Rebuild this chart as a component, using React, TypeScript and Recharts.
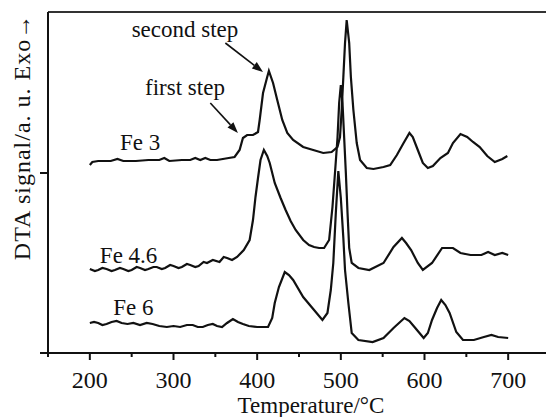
import { LineChart, Line, XAxis, YAxis, ReferenceLine, ReferenceDot, Label } from "recharts";

// DTA traces, [temperature °C, signal (arb. units, stacked)]
const fe3: [number, number][] = [
  [200, 188], [203, 191], [210, 192], [225, 192], [233, 194], [240, 192], [255, 192], [270, 193],
  [283, 193], [289, 195], [295, 192], [310, 193], [320, 193], [326, 195], [332, 193], [338, 195],
  [344, 193], [352, 193], [359, 194], [366, 195], [373, 196], [379, 203], [383, 215], [388, 218],
  [395, 218], [401, 221], [403, 233], [407, 260], [412, 276], [414, 282], [419, 270], [424, 253],
  [430, 233], [436, 220], [443, 213], [455, 206], [467, 203], [479, 200], [489, 201], [496, 206],
  [499, 216], [501, 243], [503, 276], [505, 310], [507, 333], [510, 310], [512, 276], [515, 243],
  [519, 210], [523, 193], [531, 185], [539, 184], [551, 186], [559, 188], [567, 198], [575, 210],
  [582, 220], [586, 216], [592, 203], [598, 190], [604, 185], [610, 187], [619, 195], [628, 200],
  [634, 210], [643, 219], [651, 216], [658, 211], [666, 206], [675, 197], [684, 191], [693, 194],
  [699, 197],
];

const fe46: [number, number][] = [
  [200, 84], [206, 82], [210, 83], [215, 85], [220, 84], [226, 82], [230, 83], [236, 85],
  [240, 84], [246, 82], [250, 83], [256, 86], [260, 85], [266, 83], [270, 84], [276, 86],
  [280, 86], [286, 84], [290, 85], [296, 88], [300, 87], [306, 85], [310, 86], [316, 89],
  [320, 88], [326, 86], [330, 87], [336, 91], [340, 90], [347, 93], [355, 91], [360, 96],
  [364, 95], [370, 93], [376, 96], [384, 103], [391, 113], [395, 133], [398, 156],
  [401, 175], [404, 193], [408, 203], [412, 197], [415, 190], [421, 170], [428, 155], [434, 143],
  [440, 132], [446, 123], [455, 113], [462, 108], [468, 106], [474, 105], [480, 105], [486, 113],
  [490, 146], [493, 180], [496, 215], [498, 250], [500, 268], [502, 250], [504, 215], [506, 180],
  [508, 140], [510, 105], [513, 90], [521, 85], [534, 83], [551, 90], [563, 106], [573, 115],
  [578, 110], [584, 103], [592, 90], [598, 83], [609, 90], [621, 105], [634, 105], [643, 100],
  [655, 98], [668, 98], [676, 101], [684, 98], [693, 100], [700, 98],
];

const fe6: [number, number][] = [
  [200, 30], [205, 31], [210, 30], [215, 28], [220, 29], [226, 31], [232, 32], [238, 30],
  [245, 29], [252, 30], [260, 28], [268, 30], [275, 29], [283, 27], [292, 26], [300, 27],
  [308, 26], [316, 28], [323, 28], [329, 26], [335, 26], [341, 28], [347, 29], [352, 27],
  [358, 26], [364, 30], [371, 34], [377, 31], [383, 29], [390, 27], [400, 26],
  [413, 26], [418, 35], [421, 50], [426, 66], [433, 81], [438, 78], [443, 73], [455, 56],
  [468, 43], [478, 33], [484, 40], [488, 63], [491, 90], [494, 140], [497, 182], [500, 155],
  [503, 115], [505, 83], [509, 50], [513, 20], [521, 13], [538, 11], [551, 15], [563, 25],
  [576, 35], [582, 32], [588, 26], [594, 20], [599, 15], [604, 20], [609, 33], [615, 45],
  [620, 53], [625, 48], [630, 40], [638, 21], [646, 13], [659, 13], [671, 16], [680, 18],
  [688, 16], [700, 15],
];

const xTicks = [150, 200, 250, 300, 350, 400, 450, 500, 550, 600, 650, 700, 750];
const yTicks = [0, 180];

const curveLabels = [
  { text: "second step", t: 250, v: 316 },
  { text: "first step", t: 266, v: 258 },
  { text: "Fe 3", t: 236, v: 203 },
  { text: "Fe 4.6", t: 212, v: 90 },
  { text: "Fe 6", t: 228, v: 38 },
];

const arrows = [
  { t1: 362, v1: 310, t2: 407, v2: 281 },
  { t1: 344, v1: 250, t2: 377, v2: 220 },
];

const FONT = '"Liberation Serif", "Times New Roman", serif';
const INK = "#111";

const toRows = (pts: [number, number][]) => pts.map(([t, v]) => ({ t, v }));

function XTick(props: any) {
  const { x, y, payload } = props;
  const val = payload.value as number;
  const major = val % 100 === 0;
  return (
    <g>
      <line x1={x} x2={x} y1={y} y2={y + (major ? 7 : 4)} stroke={INK} strokeWidth={2} />
      {major && val >= 200 && val <= 700 && (
        <text x={x} y={y + 35} textAnchor="middle" fontSize={24} fontFamily={FONT} fill={INK}>
          {val}
        </text>
      )}
    </g>
  );
}

function YTick(props: any) {
  const { x, y } = props;
  return <line x1={x - 8} x2={x} y1={y} y2={y} stroke={INK} strokeWidth={2} />;
}

function ArrowShape(p: any) {
  const { x1, y1, x2, y2 } = p;
  const a = Math.atan2(y2 - y1, x2 - x1);
  const len = 11;
  const w = 4;
  const bx = x2 - len * Math.cos(a);
  const by = y2 - len * Math.sin(a);
  const pts = `${x2},${y2} ${bx - w * Math.sin(a)},${by + w * Math.cos(a)} ${bx + w * Math.sin(a)},${by - w * Math.cos(a)}`;
  return (
    <g>
      <line x1={x1} y1={y1} x2={bx} y2={by} stroke={INK} strokeWidth={1.6} />
      <polygon points={pts} fill={INK} />
    </g>
  );
}

export default function App() {
  return (
    <div style={{ position: "absolute", left: 0, top: 0, width: 546, height: 417, overflow: "hidden", background: "#fff" }}>
      <LineChart width={550} height={417} margin={{ top: 12, right: 0, bottom: 0, left: 0 }}>
        <XAxis
          type="number"
          dataKey="t"
          domain={[150, 750]}
          ticks={xTicks}
          interval={0}
          allowDataOverflow
          height={64}
          tickSize={0}
          tickMargin={0}
          tickLine={false}
          tick={<XTick />}
          axisLine={{ stroke: INK, strokeWidth: 2 }}
        >
          <Label
            content={() => (
              <text x={311} y={413} textAnchor="middle" fontSize={23} fontFamily={FONT} fill={INK}>
                Temperature/°C
              </text>
            )}
          />
        </XAxis>
        <YAxis
          type="number"
          domain={[0, 341]}
          ticks={yTicks}
          allowDataOverflow
          width={48}
          tickSize={0}
          tickMargin={0}
          tickLine={false}
          tick={<YTick />}
          axisLine={{ stroke: INK, strokeWidth: 2 }}
        >
          <Label
            content={() => (
              <text
                transform="translate(30,137) rotate(-90)"
                textAnchor="middle"
                fontSize={24}
                letterSpacing={1}
                fontFamily={FONT}
                fill={INK}
              >
                DTA signal/a. u.  Exo→
              </text>
            )}
          />
        </YAxis>
        <ReferenceLine y={341} stroke="#333" strokeWidth={2} />
        <Line data={toRows(fe3)} dataKey="v" type="linear" stroke={INK} strokeWidth={2.2} dot={false} isAnimationActive={false} />
        <Line data={toRows(fe46)} dataKey="v" type="linear" stroke={INK} strokeWidth={2.2} dot={false} isAnimationActive={false} />
        <Line data={toRows(fe6)} dataKey="v" type="linear" stroke={INK} strokeWidth={2.2} dot={false} isAnimationActive={false} />
        {arrows.map((a, i) => (
          <ReferenceLine
            key={`ar${i}`}
            segment={[{ x: a.t1, y: a.v1 }, { x: a.t2, y: a.v2 }]}
            ifOverflow="visible"
            shape={ArrowShape}
          />
        ))}
        {curveLabels.map((l) => (
          <ReferenceDot
            key={l.text}
            x={l.t}
            y={l.v}
            r={0}
            ifOverflow="visible"
            shape={(p: any) => (
              <text x={p.cx} y={p.cy} fontSize={23} fontFamily={FONT} fill={INK}>
                {l.text}
              </text>
            )}
          />
        ))}
      </LineChart>
    </div>
  );
}
